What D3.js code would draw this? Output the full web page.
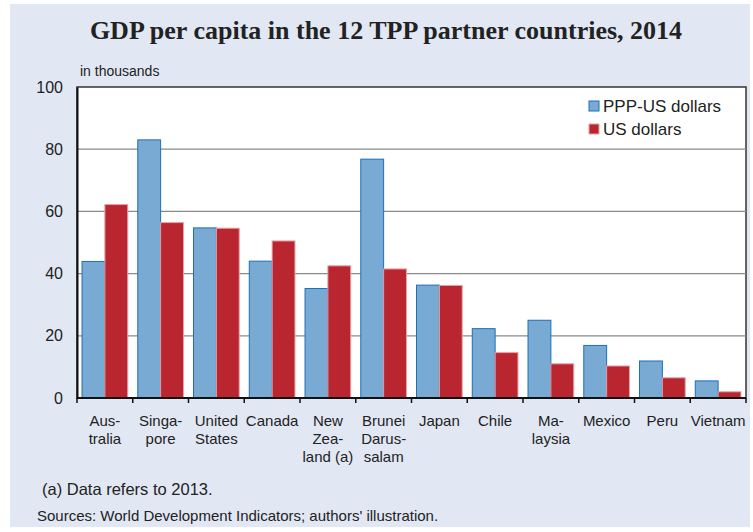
<!DOCTYPE html>
<html>
<head>
<meta charset="utf-8">
<script src="https://cdn.jsdelivr.net/npm/d3@7"></script>
<style>
  body { margin: 0; background: #ffffff; }
  text { font-family: "Liberation Sans", Arial, sans-serif; fill: #222; }
</style>
</head>
<body>
<script>
// values, in thousands
var countries = ["Australia", "Singapore", "United States", "Canada", "New Zealand", "Brunei Darussalam",
                 "Japan", "Chile", "Malaysia", "Mexico", "Peru", "Vietnam"];
var countryLabels = [["Aus-", "tralia"], ["Singa-", "pore"], ["United", "States"], ["Canada"],
                     ["New", "Zea-", "land (a)"], ["Brunei", "Darus-", "salam"], ["Japan"], ["Chile"],
                     ["Ma-", "laysia"], ["Mexico"], ["Peru"], ["Vietnam"]];
var pppValues = [43.9, 83.0, 54.7, 44.0, 35.2, 76.8, 36.3, 22.3, 25.0, 16.9, 11.9, 5.5];
var usdValues = [62.2, 56.4, 54.6, 50.5, 42.5, 41.5, 36.2, 14.6, 11.0, 10.3, 6.5, 2.0];
var seriesNames = ["PPP-US dollars", "US dollars"];
var yTicks = [0, 20, 40, 60, 80, 100];

var width = 753;
var height = 532;
var margin = { top: 87, left: 77, right: 7, bottom: 134 };

var svg = d3.select("body")
            .append("svg")
            .attr("width", width)
            .attr("height", height);

// light blue panel
svg.append("rect")
   .attr("x", 10).attr("y", 4)
   .attr("width", 740).attr("height", 523)
   .attr("fill", "#e1e8f4");

var xScale = d3.scaleBand()
               .domain(countries)
               .range([margin.left, width - margin.right])
               .paddingInner(0).paddingOuter(0);

var xInner = d3.scaleBand()
               .domain(seriesNames)
               .range([0, xScale.bandwidth()])
               .paddingOuter(0.22);

var yScale = d3.scaleLinear()
               .domain([0, 100])
               .range([height - margin.bottom, margin.top]);

var colors = { "PPP-US dollars": "#79aad4", "US dollars": "#ba2630" };
var strokes = { "PPP-US dollars": "#1b70b8", "US dollars": "#e8a0a6" };

// plot area
svg.append("rect")
   .attr("x", margin.left).attr("y", margin.top)
   .attr("width", width - margin.right - margin.left)
   .attr("height", yScale(0) - margin.top)
   .attr("fill", "#ffffff")
   .attr("stroke", "#333")
   .attr("stroke-width", 1.5);

// gridlines
svg.append("g")
   .selectAll("line")
   .data(yTicks.filter(function(d) { return d > 0 && d < 100; }))
   .enter().append("line")
   .attr("x1", margin.left).attr("x2", width - margin.right)
   .attr("y1", function(d) { return yScale(d); })
   .attr("y2", function(d) { return yScale(d); })
   .attr("stroke", "#8a8a8a")
   .attr("stroke-width", 1.2);

// bars
var groups = svg.append("g")
   .selectAll("g")
   .data(countries)
   .enter().append("g")
   .attr("transform", function(d) { return "translate(" + xScale(d) + ",0)"; });

groups.selectAll("rect")
   .data(function(d, i) {
     return [{ s: seriesNames[0], v: pppValues[i] }, { s: seriesNames[1], v: usdValues[i] }];
   })
   .enter().append("rect")
   .attr("x", function(d) { return xInner(d.s); })
   .attr("y", function(d) { return yScale(d.v); })
   .attr("width", xInner.bandwidth())
   .attr("height", function(d) { return yScale(0) - yScale(d.v); })
   .attr("fill", function(d) { return colors[d.s]; })
   .attr("stroke", function(d) { return strokes[d.s]; })
   .attr("stroke-width", 1);

// y axis
var yAxis = svg.append("g")
   .attr("transform", "translate(" + margin.left + ",0)")
   .call(d3.axisLeft(yScale).tickValues(yTicks).tickSize(0).tickPadding(14));
yAxis.select(".domain").attr("stroke", "#111").attr("stroke-width", 2);
yAxis.selectAll("text").style("font-size", "16px").style("font-family", "Liberation Sans, Arial, sans-serif").attr("fill", "#222");

// x axis with boundary ticks
var xAxisG = svg.append("g")
   .attr("transform", "translate(0," + yScale(0) + ")");
xAxisG.append("line")
   .attr("x1", margin.left).attr("x2", width - margin.right)
   .attr("stroke", "#111").attr("stroke-width", 2);
xAxisG.selectAll(".tk")
   .data(countries.concat(["end"]))
   .enter().append("line")
   .attr("x1", function(d, i) { return i < countries.length ? xScale(d) : width - margin.right; })
   .attr("x2", function(d, i) { return i < countries.length ? xScale(d) : width - margin.right; })
   .attr("y1", 0).attr("y2", 5)
   .attr("stroke", "#111").attr("stroke-width", 1.5);

var labels = xAxisG.selectAll(".lbl")
   .data(countries)
   .enter().append("text")
   .attr("text-anchor", "middle")
   .style("font-size", "15px")
   .attr("transform", function(d) { return "translate(" + (xScale(d) + xScale.bandwidth() / 2) + ",28)"; });
labels.selectAll("tspan")
   .data(function(d, i) { return countryLabels[i]; })
   .enter().append("tspan")
   .attr("x", 0)
   .attr("dy", function(d, i) { return i === 0 ? 0 : 18; })
   .text(function(d) { return d; });

// legend
var legend = svg.append("g")
   .selectAll("g")
   .data(seriesNames)
   .enter().append("g")
   .attr("transform", function(d, i) { return "translate(589," + (101 + i * 23) + ")"; });
legend.append("rect")
   .attr("width", 10).attr("height", 10)
   .attr("fill", function(d) { return colors[d]; })
   .attr("stroke", function(d) { return strokes[d]; });
legend.append("text")
   .attr("x", 14).attr("y", 11)
   .style("font-size", "17px")
   .text(function(d) { return d; });

// titles and notes
svg.append("text")
   .attr("x", 386).attr("y", 39)
   .attr("text-anchor", "middle")
   .style("font-family", "Liberation Serif, Times New Roman, serif")
   .style("font-weight", "bold")
   .style("font-size", "26px")
   .text("GDP per capita in the 12 TPP partner countries, 2014");

svg.append("text")
   .attr("x", 80).attr("y", 76)
   .style("font-size", "14px")
   .text("in thousands");

svg.append("text")
   .attr("x", 42).attr("y", 495)
   .style("font-size", "16.5px")
   .text("(a) Data refers to 2013.");

svg.append("text")
   .attr("x", 37).attr("y", 521)
   .style("font-size", "15px")
   .text("Sources: World Development Indicators; authors' illustration.");
</script>
</body>
</html>
